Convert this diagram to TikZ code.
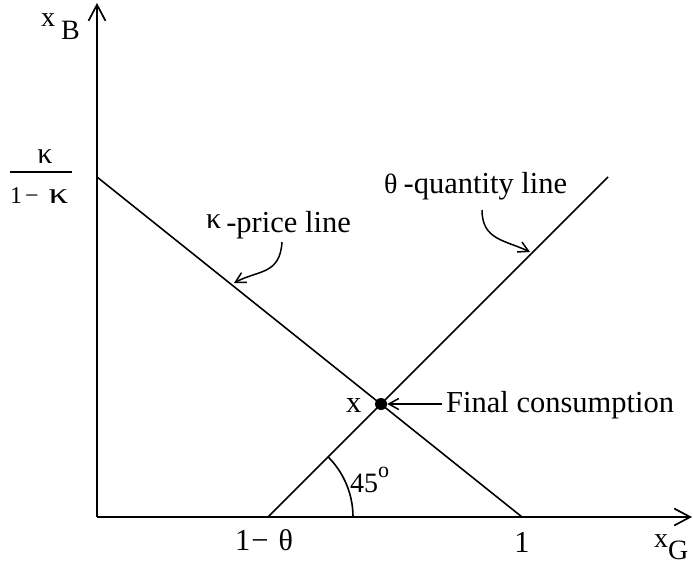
\documentclass[tikz,border=0pt]{standalone}
\usepackage{fontspec}
\setmainfont{Liberation Serif}
\usetikzlibrary{arrows.meta}
\begin{document}
\begin{tikzpicture}[x=1pt,y=-1pt,
  axis/.style={line width=1.7pt,-{Straight Barb[length=16pt,width=17pt,line width=1.7pt]}},
  graph/.style={line width=1.6pt},
  ptr/.style={line width=1.5pt,-{Straight Barb[length=10pt,width=11pt,line width=1.5pt]}},
  lbl/.style={inner sep=0pt,anchor=base west,font=\fontsize{30.5}{36}\selectfont},
  small/.style={inner sep=0pt,anchor=base west,font=\fontsize{28}{32}\selectfont},
  frac/.style={inner sep=0pt,font=\fontsize{24}{28}\selectfont},
]
\useasboundingbox (0,0) rectangle (693,567);
% points
\coordinate (O) at (97,517);
\coordinate (ytop) at (97,3);
\coordinate (xend) at (692,517);
\coordinate (k0) at (97,177);
\coordinate (k1) at (522,517);
\coordinate (t0) at (268,517);
\coordinate (t1) at (608,177);
\coordinate (X) at (381,404);
\coordinate (a0) at (353,517);
% axes
\draw[axis] (O) -- (ytop);
\draw[axis] (O) -- (xend);
% lines
\draw[graph] (k0) -- (k1);
\draw[graph] (t0) -- (t1);
\draw[graph] (a0) arc[start angle=0,end angle=45,radius=85pt];
\node[circle,fill,inner sep=0pt,minimum size=12pt] (dot) at (X) {};
% axis labels
\node[small] (xB) at (41,27) {x\hspace{6pt}\raisebox{-13pt}{B}};
\node[small] (xG) at (654,547) {x\raisebox{-12pt}{G}};
% fraction
\node[frac,anchor=base,font=\fontsize{30}{30}\selectfont] (fk) at (45,163) {κ};
\draw[line width=1.4pt] (10,172) -- (72,172);
\node[frac,anchor=base west] (f1k) at (10,203) {1\hspace{3pt}−\hspace{10pt}{\fontsize{30}{30}\selectfont\scalebox{1.3}[1]{κ}}};
% line labels
\node[lbl] (kp) at (206,232) {\raisebox{4pt}{\fontsize{30}{30}\selectfont κ}\hspace{5pt}-price line};
\node[lbl] (tq) at (384,193) {{\fontsize{28}{28}\selectfont θ}\hspace{6pt}-quantity line};
\node[lbl] (xl) at (346,412) {x};
\node[lbl] (fc) at (446,412) {Final consumption};
\node[small] (ang) at (350,492) {45\raisebox{15pt}{\fontsize{22}{22}\selectfont o}};
\node[lbl] (omt) at (235,550) {1\hspace{1pt}−\hspace{10pt}{\fontsize{30}{30}\selectfont θ}};
\node[lbl,anchor=base] (one) at (522,552) {1};
% pointers
\coordinate (ks) at (282,242);
\coordinate (ke) at (234,283);
\draw[ptr] (ks) .. controls (280,275) and (258,270) .. (ke);
\coordinate (ts) at (482,210);
\coordinate (te) at (530,252);
\draw[ptr] (ts) .. controls (482,240) and (505,240) .. (te);
\coordinate (fcs) at (442,404);
\draw[ptr] (fcs) -- (dot.east);
\end{tikzpicture}
\end{document}
